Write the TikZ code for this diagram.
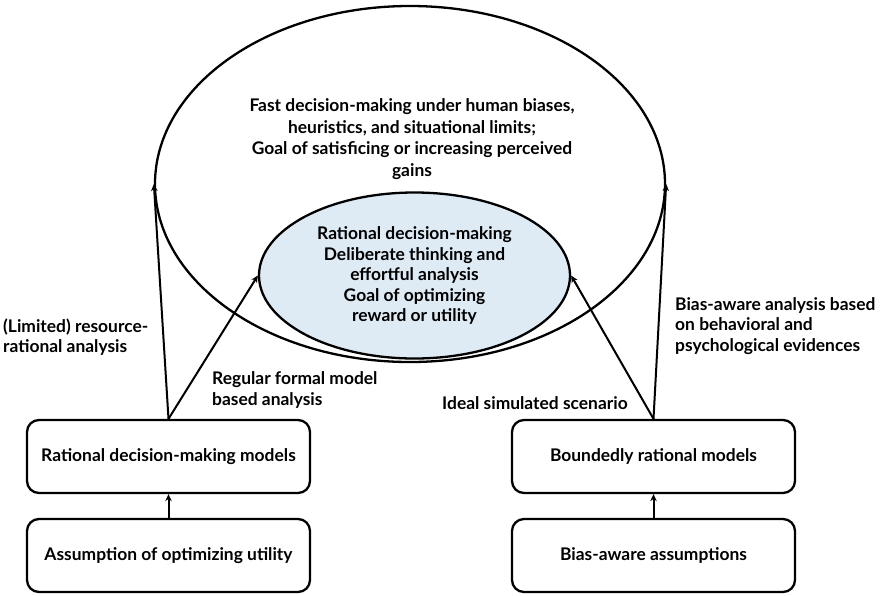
\documentclass[tikz,border=0pt]{standalone}
\usepackage{fontspec}
\setmainfont{Lato}
\usetikzlibrary{arrows.meta,shapes.geometric}
\definecolor{paleblue}{RGB}{222,235,245}
\begin{document}
\begin{tikzpicture}[x=1pt,y=-1pt,
  every node/.style={font=\bfseries\fontsize{17.4}{20.5}\selectfont},
  modelbox/.style={draw, line width=2.3pt, rounded corners=12pt,
    minimum width=283pt, minimum height=73pt, inner sep=0pt},
  oval/.style={draw, ellipse, line width=2.3pt, inner sep=0pt},
  link/.style={line width=2pt, -{Stealth[length=7pt,width=6.5pt]}},
  note/.style={align=left, inner sep=0pt, anchor=west}]
\useasboundingbox (0,0) rectangle (882,595);

% outer and inner ellipses
\node[oval, minimum width=510pt, minimum height=356pt] (outer) at (410,184) {};
\node[inner sep=0pt, align=center, font=\bfseries\fontsize{17.4}{21.5}\selectfont]
  (outertext) at (412,139)
  {Fast decision-making under human biases,\\
   heuristics, and situational limits;\\
   Goal of satisficing or increasing perceived\\
   gains};
\node[oval, fill=paleblue, minimum width=311pt, minimum height=166pt, align=center]
  (inner) at (414.5,275.5)
  {Rational decision-making\\
   Deliberate thinking and\\
   effortful analysis\\
   Goal of optimizing\\
   reward or utility};

% model boxes
\node[modelbox] (lb) at (168.5,456.5) {Rational decision-making models};
\node[modelbox] (la) at (168.5,555.5) {Assumption of optimizing utility};
\node[modelbox] (rb) at (653.5,456.5) {Boundedly rational models};
\node[modelbox] (ra) at (653.5,555.5) {Bias-aware assumptions};

% connectors
\draw[link] (la.north) -- (lb.south);
\draw[link] (ra.north) -- (rb.south);
\draw[link] (lb.north) -- (outer.west);
\draw[link] (lb.north) -- (inner.west);
\draw[link] (rb.north) -- (outer.east);
\draw[link] (rb.north) -- (inner.east);

% connector labels
\node[note] (lres) at (3,337) {(Limited) resource-\\rational analysis};
\node[note] (lreg) at (212,390) {Regular formal model\\based analysis};
\node[note] (rideal) at (442,403) {Ideal simulated scenario};
\node[note] (rbias) at (675,326) {Bias-aware analysis based\\on behavioral and\\psychological evidences};
\end{tikzpicture}
\end{document}
